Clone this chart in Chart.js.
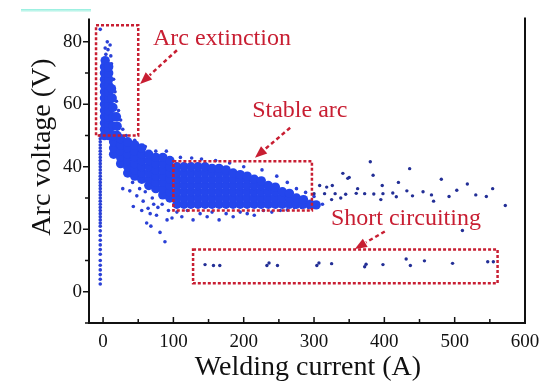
<!DOCTYPE html>
<html>
<head>
<meta charset="utf-8">
<script src="https://cdn.jsdelivr.net/npm/chart.js@4.4.1/dist/chart.umd.min.js"></script>
<style>
  body { margin: 0; background: #fff; }
  #wrap { position: relative; width: 552px; height: 382px; }
  #strip { position: absolute; left: 21px; top: 9px; width: 70px; height: 3px; background: linear-gradient(#8eeedd, #e6fbf6); }
</style>
</head>
<body>
<div id="wrap">
  <canvas id="arcChart" width="552" height="382"></canvas>
  <div id="strip"></div>
</div>
<script>
// [current A, voltage V] pairs

// dense part of the cloud (drawn as bigger dots)
const spikeCore = [
  [2,50],[2,52],[2,54],[2,56],[2,58],[2,60],[2,62],[2,64],[2,66],[2,68],[2,70],[2,72],[3,74],
  [8,50],[8,52],[8,54],[8,56],[8,58],[8,60],[8,62],[8,64],[8,66],[8,68],[8,70],[8,72],
  [14,50],[14,53],[14,56],[14,59],[13,62],[12,65],
  [20,50],[20,53],[19,56]
];
const bandCore = [
  [15,44],[15,46],[15,48],[15,50],
  [25,41],[25,43],[25,45],[25,47],[25,49],
  [35,38],[35,40],[35,42],[35,44],[35,46],[35,48],
  [45,37],[45,39],[45,41],[45,43],[45,45],[45,47],
  [55,36],[55,38],[55,40],[55,42],[55,44],[55,46],
  [65,34],[65,36],[65,38],[65,40],[65,42],[65,44],
  [75,33],[75,35],[75,37],[75,39],[75,41],[75,43],
  [85,31],[85,33],[85,35],[85,37],[85,39],[85,41],[85,43],
  [95,30],[95,32],[95,34],[95,36],[95,38],[95,40],[95,42]
];
const stableCore = [
  [105,28],[105,30],[105,32],[105,34],[105,36],[105,38],[105,40],
  [115,28],[115,30],[115,32],[115,34],[115,36],[115,38],[115,40],
  [125,28],[125,30],[125,32],[125,34],[125,36],[125,38],[125,40],
  [135,28],[135,30],[135,32],[135,34],[135,36],[135,38],[135,40],
  [145,28],[145,30],[145,32],[145,34],[145,36],[145,38],[145,40],
  [155,28],[155,30],[155,32],[155,34],[155,36],[155,38],[155,39.5],
  [165,28],[165,30],[165,32],[165,34],[165,36],[165,38],[165,39.5],
  [175,28],[175,30],[175,32],[175,34],[175,36],[175,38],[175,39],
  [185,28],[185,30],[185,32],[185,34],[185,36],[185,38],
  [195,28],[195,30],[195,32],[195,34],[195,36],[195,37.5],
  [205,28],[205,30],[205,32],[205,34],[205,36],[205,37],
  [215,28],[215,30],[215,32],[215,34],[215,36],
  [225,28],[225,30],[225,32],[225,34],[225,35.5],
  [235,28],[235,30],[235,32],[235,34],
  [245,28],[245,30],[245,32],[245,33.5],
  [255,28],[255,30],[255,32],
  [265,28],[265,30],[265,31.5],
  [275,28],[275,30],
  [285,28],[285,29.5],
  [295,28],[303,27.8]
];

// scattered points close to the cloud
const leftColumn = [
  [-4,2.5],[-4,4],[-4,5.5],[-4,7],[-4,8.5],[-4,10],[-4,12],[-4,13.5],[-4,15],[-4,16.5],[-4,18],[-4,19.5],
  [-4,21],[-4,22],[-4,23],[-4,24],[-4,25],[-4,26],[-4,27],[-4,28],[-4,29],[-4,30],[-4,31],[-4,32],
  [-4,33],[-4,34],[-4,35],[-4,36],[-4,37],[-4,38],[-4,39],[-4,40],[-4,41],[-4,42],[-4,43],[-4,44],
  [-4,45],[-4,46],[-4,47],[-4,48],[-4,49],[-4,50]
];
const spikeSparse = [
  [4,76],[7,77.5],[10,79],[6,80],[11,75.5],[3,78],[-4,84],[15,68],[17,64],[19,61],[22,58],[25,55],[28,52],[12,73]
];
const bandSparse = [
  [28,33],[38,32.3],[42,35],[48,30.7],[52,33],[57,29],[60,32],[64,26.7],[67,25],[70,30],[72,28],[76,24.5],
  [78,27],[81,19],[84,28],[88,16],[91,23],[93,26],[98,23.6],[43,27.3],[55,26],[62,22],[68,21],
  [45,48.5],[60,46.5],[75,45],[90,45],[33,50]
];
const stableSparse = [
  [110,43],[126,42.8],[140,42.5],[160,42],[180,41.2],[200,40],[226,39],[247,37],[262,35],[275,33],[288,31.8],[300,30.5],
  [105,25.5],[112,24],[120,26],[128,23],[138,25],[148,24],[155,25.5],[165,23],[175,25],[185,24],[195,25.5],
  [205,25],[215,24.5],[228,26],[240,25.5],[252,26],[262,26.2],[272,27],[282,27],[292,27],[305,27.5],[312,28]
];

// far points: high current tail and short circuiting
const tailSparse = [
  [308,34],[318,33.5],[326,34],[341,37.9],[348,36.3],[350,36.6],[380,41.6],[384,37.3],[436,39.4],
  [300,31.4],[315,31.4],[330,31.4],[345,31.2],[360,31.5],[372,31.4],[385,31.3],[398,31.4],[412,31.6],
  [417,30.4],[432,32.3],[440,30.7],[455,32],[467,31],[481,36],[492,30.5],[503,32.5],[518,34.5],[530,31],
  [545,30.5],[554,33],[572,27.6],[511,19.6],[325,29.5],[338,30],[362,33],[395,29.5],[470,29],[397,34],[420,35]
];
const shortCircuit = [
  [145,8.7],[157,8.4],[166,8.4],[233,8.4],[236,9.2],[248,8.4],[304,8.4],[307,9.2],[325,9],
  [372,8],[374,8.8],[398,8.7],[431,10.5],[437,8.4],[457,9.9],[497,9.1],[547,9.6],[555,9.6]
];

// axes
const xTickValues = [0,50,100,150,200,250,300,350,400,450,500,550,600];
const yTickValues = [-10,0,10,20,30,40,50,60,70,80];

// annotations, in data units
const regionBoxes = [
  { x0: -10, x1: 50,  y0: 50,  y1: 85.3 },
  { x0: 100, x1: 297, y0: 26,  y1: 41.8 },
  { x0: 128, x1: 561, y0: 2.7, y1: 13.5 }
];
const regionLabels = [
  { text: 'Arc extinction',   x: 71,  y: 78.9 },
  { text: 'Stable arc',       x: 212, y: 55.8 },
  { text: 'Short circuiting', x: 324, y: 21.4 }
];
const regionArrows = [
  { from: [105, 77.3],  to: [52.6, 66.5] },
  { from: [266, 52.5],  to: [216, 42.9] },
  { from: [400.6, 19.3], to: [358, 13.7] }
];

const RED = '#c81e32';
const SERIF = '"Liberation Serif", "DejaVu Serif", serif';

function toXY(pairs) {
  return pairs.map(p => ({ x: p[0], y: p[1] }));
}

function drawArrow(ctx, x0, y0, x1, y1) {
  const ang = Math.atan2(y1 - y0, x1 - x0);
  const head = 13;
  ctx.setLineDash([4, 3]);
  ctx.lineWidth = 2.5;
  ctx.beginPath();
  ctx.moveTo(x0, y0);
  ctx.lineTo(x1 - head * Math.cos(ang), y1 - head * Math.sin(ang));
  ctx.stroke();
  ctx.setLineDash([]);
  ctx.beginPath();
  ctx.moveTo(x1, y1);
  ctx.lineTo(x1 - head * Math.cos(ang - 0.38), y1 - head * Math.sin(ang - 0.38));
  ctx.lineTo(x1 - head * Math.cos(ang + 0.38), y1 - head * Math.sin(ang + 0.38));
  ctx.closePath();
  ctx.fill();
}

const overlay = {
  id: 'overlay',
  afterDatasetsDraw(chart) {
    const { ctx, chartArea: a, scales: { x, y } } = chart;
    ctx.save();

    // frame (no top line)
    ctx.strokeStyle = '#111';
    ctx.lineWidth = 2;
    ctx.beginPath();
    ctx.moveTo(a.left, a.top);
    ctx.lineTo(a.left, a.bottom);
    ctx.lineTo(a.right, a.bottom);
    ctx.lineTo(a.right, a.top - 1);
    ctx.stroke();

    // tick marks: x inward, y outward
    ctx.lineWidth = 1.5;
    ctx.beginPath();
    xTickValues.forEach(v => {
      const px = x.getPixelForValue(v);
      ctx.moveTo(px, a.bottom);
      ctx.lineTo(px, a.bottom - (v % 100 === 0 ? 6 : 4));
    });
    yTickValues.forEach(v => {
      const py = y.getPixelForValue(v);
      ctx.moveTo(a.left, py);
      ctx.lineTo(a.left - (v % 20 === 0 ? 6 : 4), py);
    });
    ctx.stroke();

    // axis titles
    ctx.fillStyle = '#111';
    ctx.font = '28px ' + SERIF;
    ctx.textAlign = 'center';
    ctx.textBaseline = 'alphabetic';
    ctx.fillText('Welding current (A)', 308, 375);
    ctx.save();
    ctx.translate(50, 147);
    ctx.rotate(-Math.PI / 2);
    ctx.fillText('Arc voltage (V)', 0, 0);
    ctx.restore();

    // dotted region boxes
    ctx.strokeStyle = RED;
    ctx.fillStyle = RED;
    ctx.lineWidth = 2.5;
    ctx.setLineDash([3, 2]);
    regionBoxes.forEach(b => {
      const l = x.getPixelForValue(b.x0), r = x.getPixelForValue(b.x1);
      const t = y.getPixelForValue(b.y1), bt = y.getPixelForValue(b.y0);
      ctx.strokeRect(l, t, r - l, bt - t);
    });
    ctx.setLineDash([]);

    regionArrows.forEach(ar => {
      drawArrow(ctx,
        x.getPixelForValue(ar.from[0]), y.getPixelForValue(ar.from[1]),
        x.getPixelForValue(ar.to[0]), y.getPixelForValue(ar.to[1]));
    });

    ctx.font = '24px ' + SERIF;
    ctx.textAlign = 'left';
    regionLabels.forEach(lb => {
      ctx.fillText(lb.text, x.getPixelForValue(lb.x), y.getPixelForValue(lb.y));
    });

    ctx.restore();
  }
};

const ctx = document.getElementById('arcChart').getContext('2d');
new Chart(ctx, {
  type: 'scatter',
  data: {
    datasets: [
      {
        data: toXY(spikeCore.concat(bandCore, stableCore)),
        pointRadius: 4.7,
        pointBorderWidth: 0,
        backgroundColor: '#2446ec'
      },
      {
        data: toXY(leftColumn.concat(spikeSparse, bandSparse, stableSparse)),
        pointRadius: 1.8,
        pointBorderWidth: 0,
        backgroundColor: '#2a40d6'
      },
      {
        data: toXY(tailSparse.concat(shortCircuit)),
        pointRadius: 1.7,
        pointBorderWidth: 0,
        backgroundColor: '#232f96'
      }
    ]
  },
  options: {
    responsive: false,
    animation: false,
    layout: { padding: { left: 0, top: 10, right: 27, bottom: 0 } },
    plugins: { legend: { display: false }, tooltip: { enabled: false } },
    scales: {
      x: {
        type: 'linear',
        min: -20,
        max: 600,
        grid: { display: false, drawTicks: false },
        border: { display: false },
        afterBuildTicks: s => { s.ticks = xTickValues.map(v => ({ value: v })); },
        afterFit: s => { s.height = 59; },
        ticks: {
          autoSkip: false,
          maxRotation: 0,
          padding: 8,
          color: '#111',
          font: { family: SERIF, size: 19 },
          callback: v => (v % 100 === 0 ? v : '')
        }
      },
      y: {
        type: 'linear',
        min: -10,
        max: 87.5,
        grid: { display: false, drawTicks: false },
        border: { display: false },
        afterBuildTicks: s => { s.ticks = yTickValues.map(v => ({ value: v })); },
        afterFit: s => { s.width = 89; },
        ticks: {
          autoSkip: false,
          padding: 7,
          color: '#111',
          font: { family: SERIF, size: 19 },
          callback: v => (v >= 0 && v % 20 === 0 ? v : '')
        }
      }
    }
  },
  plugins: [overlay]
});
</script>
</body>
</html>
